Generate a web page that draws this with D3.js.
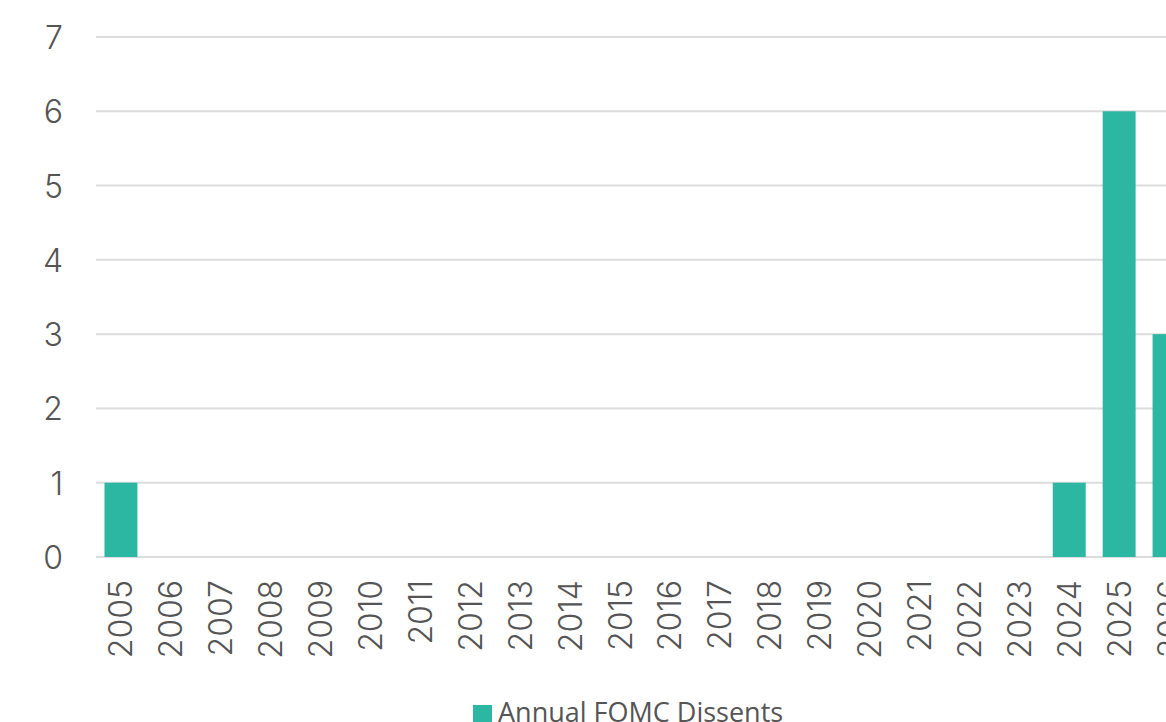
<!DOCTYPE html>
<html lang="en">
<head>
    <meta charset="utf-8">
    <style type="text/css">
        body { margin: 0; background: #fff; overflow: hidden; }
        .grid line { stroke: #dcdcdc; stroke-width: 2px; }
        .axis text { fill: #555; font-family: Inter, "Noto Sans", sans-serif; font-size: 32px; font-weight: 300; }
        .legend text { fill: #555; font-family: "Open Sans", sans-serif; font-size: 27px; }
    </style>
</head>
<body>
<svg width="1166" height="722"></svg>

<script src="https://d3js.org/d3.v7.min.js"></script>
<script type="text/javascript">
    var years = ["2005", "2006", "2007", "2008", "2009", "2010", "2011", "2012", "2013", "2014", "2015",
        "2016", "2017", "2018", "2019", "2020", "2021", "2022", "2023", "2024", "2025", "2026"];
    var dissents = [1, 0, 0, 0, 0, 0, 0, 0, 0, 0, 0, 0, 0, 0, 0, 0, 0, 0, 0, 1, 6, 3];
    var yTicks = [0, 1, 2, 3, 4, 5, 6, 7];
    var seriesName = "Annual FOMC Dissents";

    var svg = d3.select("svg"),
        width = +svg.attr("width"),
        height = +svg.attr("height");

    var plotLeft = 96, plotRight = 1194, plotTop = 37, plotBottom = 557;

    var x = d3.scaleBand()
        .domain(years)
        .range([plotLeft, plotRight])
        .paddingInner(0.34)
        .paddingOuter(0.17);

    var y = d3.scaleLinear()
        .domain([0, 7])
        .range([plotBottom, plotTop]);

    // gridlines
    svg.append("g")
        .attr("class", "grid")
        .selectAll("line")
        .data(yTicks)
        .enter()
        .append("line")
        .attr("x1", plotLeft)
        .attr("x2", width)
        .attr("y1", function (d) { return y(d); })
        .attr("y2", function (d) { return y(d); });

    // y axis labels
    var yAxis = svg.append("g")
        .attr("class", "axis")
        .attr("transform", "translate(" + (plotLeft - 33) + ",0)")
        .call(d3.axisLeft(y).tickValues(yTicks).tickFormat(d3.format("d")).tickSize(0).tickPadding(0));
    yAxis.select(".domain").remove();
    yAxis.selectAll("text").attr("dy", "0.36em");

    // bars
    svg.append("g")
        .selectAll("rect")
        .data(years)
        .enter()
        .append("rect")
        .attr("x", function (d) { return x(d); })
        .attr("width", x.bandwidth())
        .attr("y", function (d, i) { return y(dissents[i]); })
        .attr("height", function (d, i) { return y(0) - y(dissents[i]); })
        .attr("fill", "#2bb7a1");

    // x axis labels, rotated
    var xAxis = svg.append("g")
        .attr("class", "axis")
        .attr("transform", "translate(0," + (plotBottom + 23) + ")")
        .call(d3.axisBottom(x).tickSize(0).tickPadding(0));
    xAxis.select(".domain").remove();
    xAxis.selectAll("text")
        .attr("text-anchor", "end")
        .attr("transform", "rotate(-90)")
        .attr("x", 0)
        .attr("y", 0)
        .attr("dy", "0.36em");

    // legend
    var legend = svg.append("g").attr("class", "legend");
    legend.append("rect")
        .attr("x", 473)
        .attr("y", 705)
        .attr("width", 19)
        .attr("height", 19)
        .attr("fill", "#2bb7a1");
    legend.append("text")
        .attr("x", 498)
        .attr("y", 722)
        .text(seriesName);
</script>
</body>
</html>
